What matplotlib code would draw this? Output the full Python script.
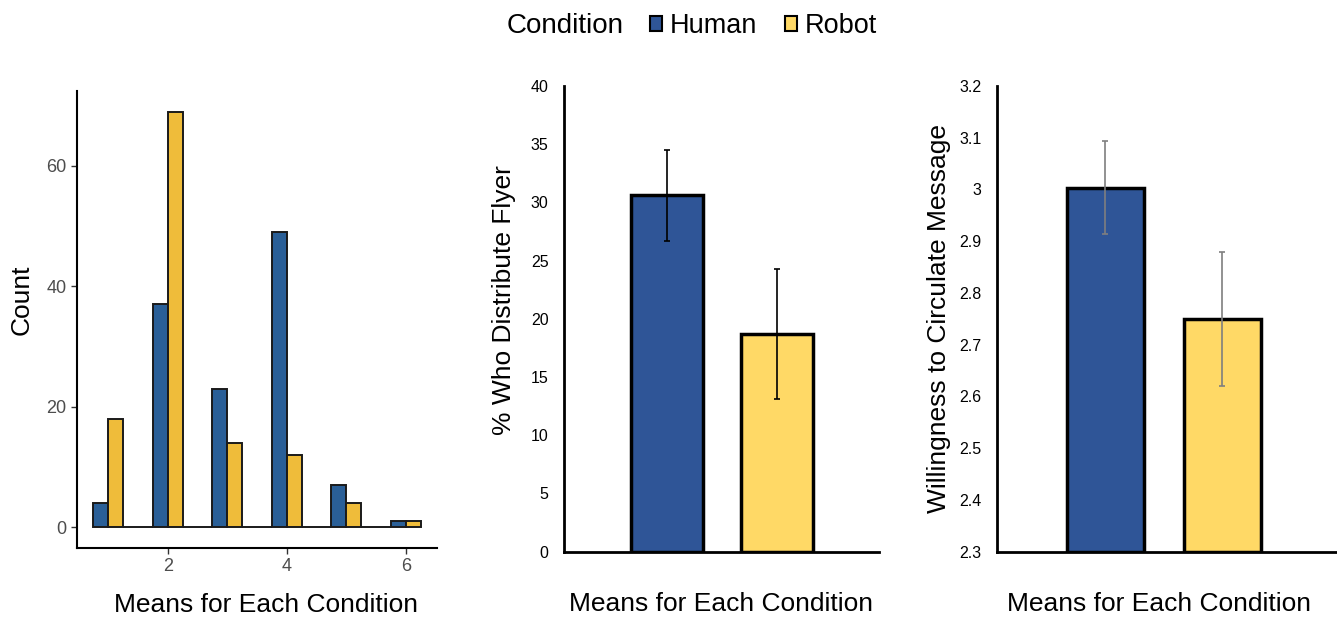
import numpy as np
import matplotlib.pyplot as plt
from matplotlib.patches import Patch

plt.rcParams['font.family'] = ['Liberation Sans', 'DejaVu Sans']

# histogram of means (bins at 1..6, empty bins in between)
bins = [1, 1.5, 2, 2.5, 3, 3.5, 4, 4.5, 5, 5.5, 6]
human_counts = [4, 0, 37, 0, 23, 0, 49, 0, 7, 0, 1]
robot_counts = [18, 0, 69, 0, 14, 0, 12, 0, 4, 0, 1]

conditions = ['Human', 'Robot']
flyer_pct = [30.6, 18.7]
flyer_err = [3.9, 5.55]
willing = [3.003, 2.75]
willing_err = [0.09, 0.13]

hist_blue, hist_yellow = '#2A5F97', '#EFBC3A'
bar_blue, bar_yellow = '#2F5597', '#FFD966'

fig = plt.figure(figsize=(13.37, 6.18), dpi=100)

# --- panel 1: histogram (ggplot style) ---
ax1 = fig.add_axes([0.0576, 0.1133, 0.2693, 0.7395])
x = np.array(bins)
w = 0.25
ax1.bar(x - w / 2, human_counts, width=w, color=hist_blue, edgecolor='#1a1a1a', linewidth=1.4)
ax1.bar(x + w / 2, robot_counts, width=w, color=hist_yellow, edgecolor='#1a1a1a', linewidth=1.4)
ax1.set_xlim(0.475, 6.525)
ax1.set_ylim(-3.45, 72.45)
ax1.set_xticks([2, 4, 6])
ax1.set_yticks([0, 20, 40, 60])
ax1.tick_params(colors='#333333', labelcolor='#4D4D4D', labelsize=13, length=4, width=1)
for s in ['top', 'right']:
    ax1.spines[s].set_visible(False)
for s in ['left', 'bottom']:
    ax1.spines[s].set_linewidth(1.5)
ax1.set_ylabel('Count', fontsize=19, labelpad=9)
ax1.yaxis.label.set_y(0.543)
ax1.set_xlabel('Means for Each Condition', fontsize=19, labelpad=13)
ax1.xaxis.label.set_x(0.525)

# --- panel 2: flyer distribution ---
ax2 = fig.add_axes([0.4218, 0.1073, 0.2356, 0.7536])
ax2.bar([0, 1], flyer_pct, width=0.65, color=[bar_blue, bar_yellow],
        edgecolor='black', linewidth=2.5, zorder=2)
ax2.errorbar([0, 1], flyer_pct, yerr=flyer_err, fmt='none', ecolor='black',
             elinewidth=1.2, capsize=2.5, capthick=1.2, zorder=3)
ax2.set_xlim(-0.936, 1.927)
ax2.set_ylim(0, 40)
ax2.set_yticks(range(0, 41, 5))
ax2.set_xticks([])
ax2.tick_params(axis='y', length=0, labelsize=11.5, pad=11)
for s in ['top', 'right']:
    ax2.spines[s].set_visible(False)
for s in ['left', 'bottom']:
    ax2.spines[s].set_linewidth(2)
ax2.set_ylabel('% Who Distribute Flyer', fontsize=19, labelpad=11)
ax2.yaxis.label.set_y(0.541)
ax2.set_xlabel('Means for Each Condition', fontsize=19, labelpad=29)

# --- panel 3: willingness ---
ax3 = fig.add_axes([0.7457, 0.1073, 0.2543, 0.7536])
ax3.bar([0, 1], np.array(willing) - 2.3, bottom=2.3, width=0.66,
        color=[bar_blue, bar_yellow], edgecolor='black', linewidth=2.5, zorder=2)
ax3.errorbar([0, 1], willing, yerr=willing_err, fmt='none', ecolor='#7F7F7F',
             elinewidth=1.2, capsize=2.5, capthick=1.2, zorder=3)
ax3.set_xlim(-0.927, 1.98)
ax3.set_ylim(2.3, 3.2)
ytk = np.round(np.arange(2.3, 3.21, 0.1), 1)
ax3.set_yticks(ytk)
ax3.set_yticklabels([('%g' % v) for v in ytk])
ax3.set_xticks([])
ax3.tick_params(axis='y', length=0, labelsize=11.5, pad=11)
for s in ['top', 'right']:
    ax3.spines[s].set_visible(False)
for s in ['left', 'bottom']:
    ax3.spines[s].set_linewidth(2)
ax3.set_ylabel('Willingness to Circulate Message', fontsize=19, labelpad=6)
ax3.set_xlabel('Means for Each Condition', fontsize=19, labelpad=29)
ax3.xaxis.label.set_x(0.476)

# --- legend ---
fig.text(0.379, 0.958, 'Condition', fontsize=20, ha='left', va='center')
handles = [Patch(facecolor=bar_blue, edgecolor='black', linewidth=1.5),
           Patch(facecolor=bar_yellow, edgecolor='black', linewidth=1.5)]
fig.legend(handles, conditions, loc='center left', bbox_to_anchor=(0.486, 0.958),
           ncol=2, frameon=False, fontsize=19.5, handlelength=0.45, handleheight=0.45,
           handletextpad=0.3, columnspacing=1.0, borderpad=0, borderaxespad=0)

fig.savefig('out.png', dpi=100)
